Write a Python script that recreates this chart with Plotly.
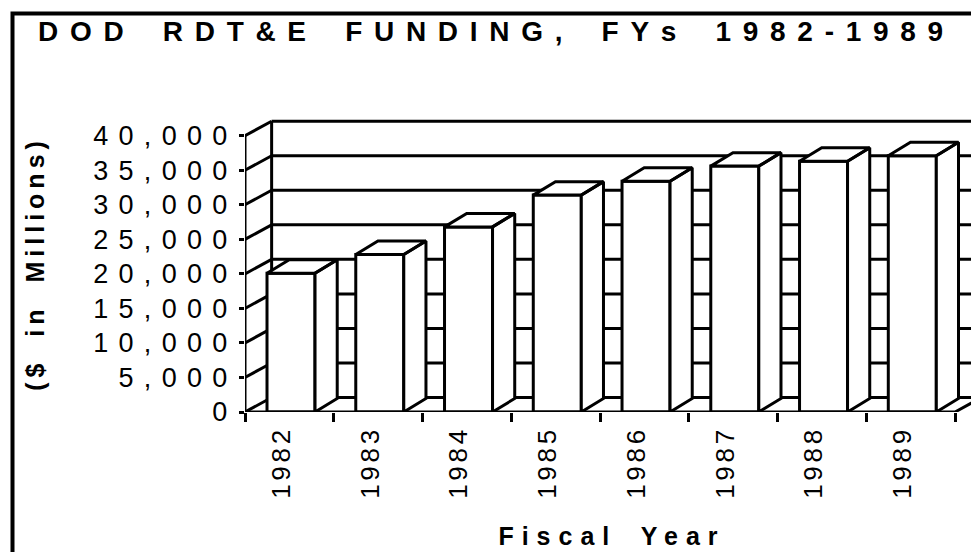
import plotly.graph_objects as go

# ---------------- data ----------------
years = ["1982", "1983", "1984", "1985", "1986", "1987", "1988", "1989"]
funding = [20100, 22800, 26800, 31400, 33400, 35600, 36300, 37100]
y_tick_values = [0, 5000, 10000, 15000, 20000, 25000, 30000, 35000, 40000]
y_tick_labels = ["0", "5,000", "10,000", "15,000", "20,000", "25,000", "30,000", "35,000", "40,000"]

title_text = "DOD RDT&E FUNDING, FYs 1982-1989"
x_title = "Fiscal Year"
y_title = "($ in Millions)"

# ---------------- layout constants ----------------
# the page body adds an 8px margin, so the figure is 8px smaller than the window
W, H = 971, 544
ML, MR, MT, MB = 237, 0, 107, 140
X_MAX = 8.27
Y_MAX = 43000

# 3D look (axis units)
WALL_DX, WALL_DY = 0.30, 2100
BAR_DX, BAR_DY = 0.25, 1950
BAR_LEFT, BAR_WIDTH = 0.248, 0.541

FONT = "Liberation Sans, Arial, Helvetica, sans-serif"
LW = 3
INK = "black"


def spaced(text, ls, ws=0):
    return f'<span style="letter-spacing:{ls}px;word-spacing:{ws}px">{text}</span>'


n = len(years)
fig = go.Figure()

# ---- walls (drawn below the bars) ----
shapes = []
line_style = dict(color=INK, width=LW)
for v in y_tick_values:
    # back wall gridline
    shapes.append(dict(type="line", xref="x", yref="y", layer="below",
                       x0=WALL_DX, y0=v + WALL_DY, x1=n + WALL_DX + 0.5, y1=v + WALL_DY,
                       line=line_style))
    # left wall diagonal
    shapes.append(dict(type="line", xref="x", yref="y", layer="below",
                       x0=0, y0=v, x1=WALL_DX, y1=v + WALL_DY, line=line_style))
# back wall left edge
shapes.append(dict(type="line", xref="x", yref="y", layer="below",
                   x0=WALL_DX, y0=WALL_DY, x1=WALL_DX, y1=y_tick_values[-1] + WALL_DY,
                   line=line_style))

# outer frame of the page
plot_w = W - ML - MR
plot_h = H - MT - MB
shapes.append(dict(type="rect", xref="paper", yref="paper", layer="above",
                   x0=(4.5 - ML) / plot_w, x1=1.2,
                   y0=-1.0, y1=(H - MB - 5.5) / plot_h,
                   line=dict(color=INK, width=4), fillcolor="rgba(0,0,0,0)"))

# ---- bar front faces ----
fig.add_trace(go.Bar(
    x=[i + BAR_LEFT + BAR_WIDTH / 2 for i in range(n)],
    y=funding,
    width=BAR_WIDTH,
    marker=dict(color="white", line=dict(color=INK, width=LW)),
    cliponaxis=False,
    hoverinfo="skip",
    showlegend=False,
))

# ---- bar tops and right sides ----
xs, ys = [], []
for i, v in enumerate(funding):
    x0 = i + BAR_LEFT
    x1 = x0 + BAR_WIDTH
    xs += [x0, x1, x1 + BAR_DX, x0 + BAR_DX, x0, None]
    ys += [v, v, v + BAR_DY, v + BAR_DY, v, None]
    xs += [x1, x1 + BAR_DX, x1 + BAR_DX, x1, x1, None]
    ys += [0, BAR_DY, v + BAR_DY, v, 0, None]
fig.add_trace(go.Scatter(
    x=xs, y=ys, mode="lines", fill="toself", fillcolor="white",
    line=dict(color=INK, width=LW), cliponaxis=False,
    hoverinfo="skip", showlegend=False,
))

# ---- front floor edge and front value axis ----
fig.add_trace(go.Scatter(
    x=[0, n, n + WALL_DX], y=[0, 0, WALL_DY], mode="lines",
    line=dict(color=INK, width=LW), cliponaxis=False,
    hoverinfo="skip", showlegend=False,
))
fig.add_trace(go.Scatter(
    x=[0, 0], y=[0, y_tick_values[-1]], mode="lines",
    line=dict(color=INK, width=LW), cliponaxis=False,
    hoverinfo="skip", showlegend=False,
))

fig.update_layout(
    width=W, height=H,
    margin=dict(l=ML, r=MR, t=MT, b=MB, autoexpand=False),
    paper_bgcolor="white", plot_bgcolor="white",
    shapes=shapes,
    showlegend=False,
    title=dict(
        text=spaced(title_text, 11.7, 8),
        x=30 / W, xanchor="left", xref="container",
        y=1 - 23 / H, yanchor="middle", yref="container",
        font=dict(family=FONT, size=28, color=INK, weight="bold"),
    ),
    xaxis=dict(
        range=[0, X_MAX],
        tickmode="array",
        tickvals=[i + 0.41 for i in range(n)],
        ticktext=[spaced(y, 3.7) for y in years],
        tickangle=-90,
        ticks="",
        ticklabelstandoff=8,
        tickfont=dict(family=FONT, size=26, color=INK),
        showgrid=False, zeroline=False, showline=False,
        minor=dict(tickmode="array", tickvals=list(range(n + 1)), ticks="outside",
                   ticklen=9, tickwidth=LW, tickcolor=INK, showgrid=False),
        title=dict(text=spaced(x_title, 8, 9),
                   font=dict(family=FONT, size=25, color=INK, weight="bold"),
                   standoff=29),
        fixedrange=True,
    ),
    yaxis=dict(
        range=[0, Y_MAX],
        tickmode="array",
        tickvals=y_tick_values,
        ticktext=[spaced(t, 10.3) for t in y_tick_labels],
        ticks="outside", ticklen=5, tickwidth=LW, tickcolor=INK,
        ticklabelstandoff=-4,
        tickfont=dict(family=FONT, size=27, color=INK),
        showgrid=False, zeroline=False, showline=False,
        title=dict(text=spaced(y_title, 5, 10),
                   font=dict(family=FONT, size=25, color=INK, weight="bold"),
                   standoff=41),
        fixedrange=True,
    ),
)

fig.write_html("out.html")
